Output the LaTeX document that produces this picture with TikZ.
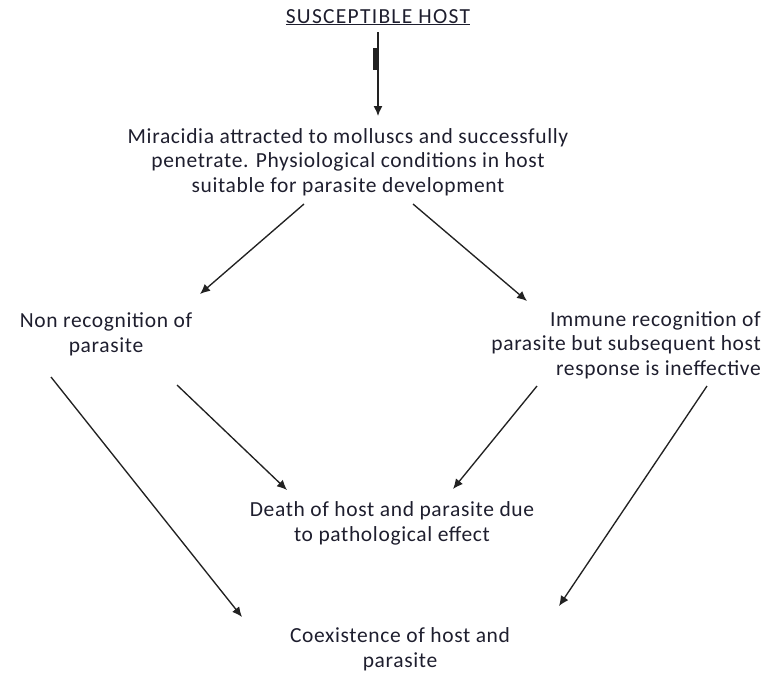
\documentclass[tikz,border=0pt]{standalone}
\usepackage{fontspec}
\setmainfont{Carlito}[LetterSpace=3]
\newfontfamily\capsfont{Carlito}[LetterSpace=6]
\usetikzlibrary{arrows.meta}
\definecolor{txt}{HTML}{1E1E2E}
\definecolor{ln}{HTML}{222222}
\tikzset{
  lbl/.style={font=\fontsize{21.5}{24.5}\selectfont, text=txt, inner sep=0pt, anchor=base},
  arr/.style={draw=ln, line width=1.35pt, -{Latex[length=10pt,width=9pt]}}
}
\begin{document}
\begin{tikzpicture}[x=1pt,y=-1pt]
\useasboundingbox (0,0) rectangle (770,675);
% text nodes (base anchor = baseline of last line)
\node[lbl] (host) at (378,23) {\capsfont\underline{SUSCEPTIBLE HOST}};
\node[lbl, align=center] (mir) at (348,192) {Miracidia attracted to molluscs and successfully\\penetrate. Physiological conditions in host\\suitable for parasite development};
\node[lbl, align=center] (nonrec) at (106,352) {Non recognition of\\parasite};
\node[lbl, align=right, anchor=base east] (immune) at (761,375) {Immune recognition of\\parasite but subsequent host\\response is ineffective};
\node[lbl, align=center] (death) at (392,541) {Death of host and parasite due\\to pathological effect};
\node[lbl, align=center] (coex) at (400,667) {Coexistence of host and\\parasite};
% connector end points
\coordinate (host-s) at (378,32);
\coordinate (mir-n) at (378,116);
\coordinate (mir-sl) at (304,204);
\coordinate (mir-sr) at (413,204);
\coordinate (nonrec-n) at (200,294);
\coordinate (immune-n) at (527,301);
\coordinate (nonrec-sl) at (51,377);
\coordinate (nonrec-sr) at (177,385);
\coordinate (immune-sl) at (537,386);
\coordinate (immune-sr) at (707,386);
\coordinate (death-nl) at (287,490);
\coordinate (death-nr) at (453,489);
\coordinate (coex-nl) at (242,617);
\coordinate (coex-nr) at (559,606);
% connectors
\draw[arr] (host-s) -- (mir-n);
\fill[ln] (372.5,48) rectangle (377.5,70);
\draw[arr] (mir-sl) -- (nonrec-n);
\draw[arr] (mir-sr) -- (immune-n);
\draw[arr] (nonrec-sl) -- (coex-nl);
\draw[arr] (nonrec-sr) -- (death-nl);
\draw[arr] (immune-sl) -- (death-nr);
\draw[arr] (immune-sr) -- (coex-nr);
\end{tikzpicture}
\end{document}
